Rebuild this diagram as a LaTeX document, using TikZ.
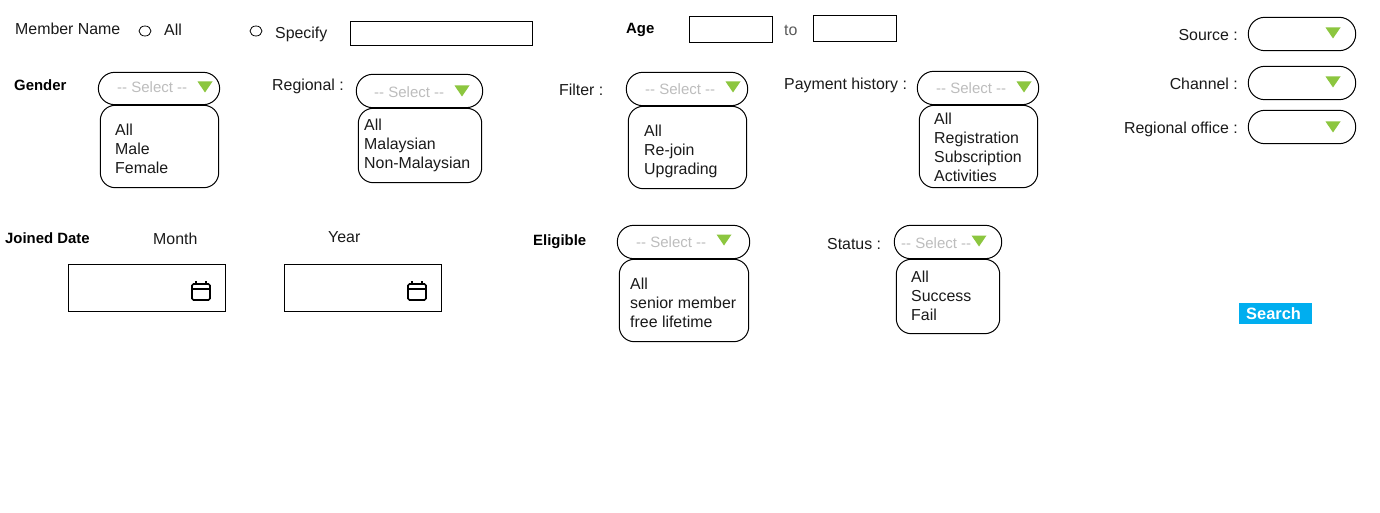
\documentclass[tikz,border=0pt]{standalone}
\usepackage{fontspec}
\setmainfont{Liberation Sans}
\usetikzlibrary{shapes.geometric}
\definecolor{tri}{HTML}{8CC63F}
\definecolor{sel}{HTML}{BDBDBD}
\definecolor{btn}{HTML}{00AEEF}
\definecolor{ink}{HTML}{1A1A1A}
\tikzset{
  lab/.style={anchor=base west,inner sep=0pt,yshift=-1pt,text=ink,font=\fontsize{15.9}{19}\selectfont},
  labr/.style={anchor=base east,inner sep=0pt,yshift=-1pt,text=ink,font=\fontsize{15.9}{19}\selectfont},
  blab/.style={anchor=base west,inner sep=0pt,yshift=-1pt,text=black,font=\fontsize{14.9}{19}\selectfont\bfseries},
  seltext/.style={anchor=base west,inner sep=0pt,yshift=-1pt,text=sel,font=\fontsize{15}{19}\selectfont},
  opts/.style={anchor=base west,inner sep=0pt,yshift=-1pt,text=ink,align=left,font=\fontsize{15.9}{19}\selectfont},
  pill/.style={draw=black,line width=1pt,rounded corners=16.5pt,inner sep=0pt,fill=white},
  optbox/.style={draw=black,line width=1pt,rounded corners=15pt,inner sep=0pt,fill=white},
  field/.style={draw=black,line width=0.9pt,inner sep=0pt,fill=white},
  radio/.style={draw=black,line width=0.8pt,ellipse,inner sep=0pt,minimum width=12pt,minimum height=10pt},
  arrowtri/.style={fill=tri,draw=none},
  calicon/.style={draw=black,line width=1.6pt},
  searchbtn/.style={fill=btn,draw=none,inner sep=0pt}
}
% box from corners: style, name, x0, y0, x1, y1
\newcommand{\bx}[6]{%
  \pgfmathsetmacro{\bcx}{(#3+#5)/2}\pgfmathsetmacro{\bcy}{(#4+#6)/2}%
  \pgfmathsetmacro{\bw}{#5-#3-0.6}\pgfmathsetmacro{\bh}{#6-#4-0.6}%
  \node[#1,minimum width=\bw pt,minimum height=\bh pt] (#2) at (\bcx,\bcy) {};}
\newcommand{\trig}[2]{\fill[arrowtri] (#1-7.5,#2-5.5) -- (#1+7.5,#2-5.5) -- (#1,#2+5.5) -- cycle;}
\newcommand{\calicn}[2]{%
  \draw[calicon,rounded corners=1.5pt] (#1-9,#2-7) rectangle (#1+9,#2+9);
  \draw[calicon] (#1-9,#2-2) -- (#1+9,#2-2);
  \draw[calicon] (#1-5,#2-10) -- (#1-5,#2-6);
  \draw[calicon] (#1+5,#2-10) -- (#1+5,#2-6);}
\newcommand{\seltxt}{-{}- Select -{}-}
\begin{document}
\begin{tikzpicture}[x=1pt,y=-1pt]
\useasboundingbox (0,0) rectangle (1380,513);
\fill[white] (0,0) rectangle (1380,513);
% first row
\node[lab] (member) at (15,34) {Member Name};
\node[radio] (r1) at (145,31) {};
\node[lab] (all) at (164,35) {All};
\node[radio] (r2) at (256,31) {};
\node[lab] (specify) at (275,38) {Specify};
\bx{field}{nameinput}{350}{21}{533}{46}
\node[blab] (age) at (626,33) {Age};
\bx{field}{agefrom}{689}{16}{773}{43}
\node[lab,text=black!65] (to) at (784,35) {to};
\bx{field}{ageto}{813}{15}{897}{42}
% right column
\node[labr] (source) at (1238,40) {Source :};
\bx{pill}{sourcep}{1248}{17}{1356}{51}
\trig{1333}{33}
\node[labr] (channel) at (1238,89) {Channel :};
\bx{pill}{channelp}{1248}{66}{1356}{100}
\trig{1333}{82}
\node[labr] (office) at (1238,133) {Regional office :};
\bx{pill}{officep}{1248}{110}{1356}{144}
\trig{1333}{127}
% gender
\node[blab] (gender) at (14,90) {Gender};
\bx{optbox}{genderb}{100}{105}{219}{188}
\bx{pill}{genderp}{98}{72}{220}{105}
\node[seltext] (genders) at (117,92) {\seltxt};
\trig{205}{87}
\node[opts] (gendero) at (115,173) {All\\Male\\Female};
% regional
\node[lab] (regional) at (272,90) {Regional :};
\bx{optbox}{regionalb}{358}{108}{482}{183}
\bx{pill}{regionalp}{356}{74}{483}{108}
\node[seltext] (regionals) at (374,97) {\seltxt};
\trig{462}{91}
\node[opts] (regionalo) at (364,168) {All\\Malaysian\\Non-Malaysian};
% filter
\node[lab] (filter) at (559,95) {Filter :};
\bx{optbox}{filterb}{628}{106}{747}{189}
\bx{pill}{filterp}{626}{72}{748}{106}
\node[seltext] (filters) at (645,94) {\seltxt};
\trig{733}{87}
\node[opts] (filtero) at (644,174) {All\\Re-join\\Upgrading};
% payment
\node[lab] (payment) at (784,89) {Payment history :};
\bx{optbox}{payb}{919}{105}{1038}{188}
\bx{pill}{payp}{917}{71}{1039}{105}
\node[seltext] (pays) at (936,93) {\seltxt};
\trig{1024}{87}
\node[opts] (payo) at (934,181) {All\\Registration\\Subscription\\Activities};
% dates
\node[blab] (joined) at (5,242) {Joined Date};
\node[lab] (month) at (153,243) {Month};
\node[lab] (year) at (328,241) {Year};
\bx{field}{monthb}{68}{264}{226}{312}
\bx{field}{yearb}{284}{264}{442}{312}
\calicn{201}{291}
\calicn{417}{291}
% eligible
\node[blab] (eligible) at (533,244) {Eligible};
\bx{optbox}{eligb}{619}{259}{749}{342}
\bx{pill}{eligp}{617}{225}{750}{259}
\node[seltext] (eligs) at (636,246) {\seltxt};
\trig{724}{240}
\node[opts] (eligo) at (630,326) {All\\senior member\\free lifetime};
% status
\node[lab] (status) at (827,248) {Status :};
\bx{optbox}{statb}{896}{259}{1000}{334}
\bx{pill}{statp}{894}{225}{1002}{259}
\node[seltext] (stats) at (901,247) {\seltxt};
\trig{979}{241}
\node[opts] (stato) at (911,319) {All\\Success\\Fail};
% search
\bx{searchbtn}{searchb}{1239}{303}{1312}{324}
\node[anchor=base west,inner sep=0pt,text=white,font=\fontsize{16.4}{19}\selectfont\bfseries] (searcht) at (1246,319) {Search};
\end{tikzpicture}
\end{document}
